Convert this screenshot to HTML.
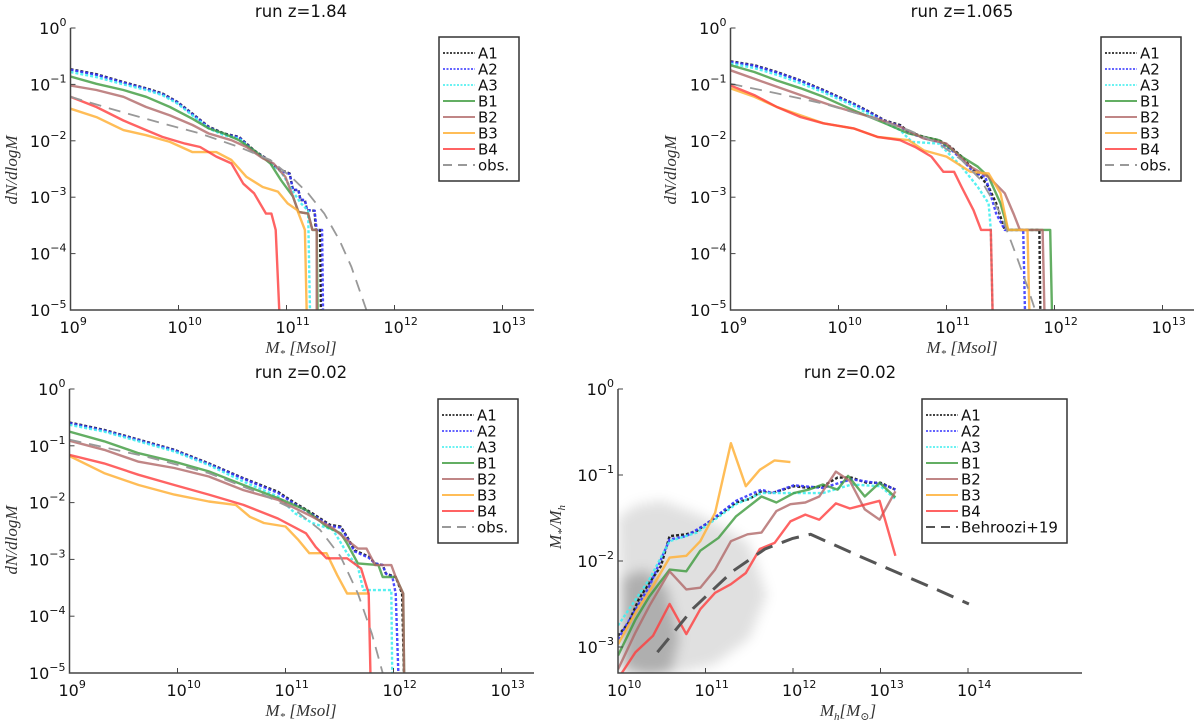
<!DOCTYPE html>
<html><head><meta charset="utf-8">
<style>
html,body{margin:0;padding:0;background:#fff;}
svg{display:block;font-family:"DejaVu Sans","Liberation Sans",sans-serif;}
.tick{font-size:16px;fill:#111;}
.sup{font-size:11px;}
.title{font-size:16.5px;fill:#111;}
.leg{font-size:15px;fill:#111;}
.axlab{font-family:"Liberation Serif","DejaVu Serif",serif;font-style:italic;font-size:17px;fill:#333;}
</style></head>
<body>
<svg id="fig" width="1200" height="722" viewBox="0 0 1200 722" xmlns="http://www.w3.org/2000/svg">
<defs>
<filter id="blur" x="-20%" y="-20%" width="140%" height="140%"><feGaussianBlur stdDeviation="6"/></filter>
</defs>
</svg>
<script>
// ---------- data (log10 values) ----------
// Panel 1: run z=1.84
const z184_A1_logM=[9.00,9.24,9.49,9.70,9.85,9.99,10.13,10.28,10.42,10.56,10.70,10.81,10.88,10.95,11.03,11.06,11.11,11.13,11.17,11.19,11.26,11.27,11.31,11.32];
const z184_A1_logN=[-0.73,-0.82,-0.96,-1.07,-1.16,-1.31,-1.52,-1.75,-1.87,-1.93,-2.17,-2.31,-2.43,-2.52,-2.58,-2.87,-2.87,-3.05,-3.05,-3.23,-3.24,-3.58,-3.58,-5.3];
const z184_A2_logM=[9.00,9.24,9.49,9.70,9.85,9.99,10.13,10.28,10.42,10.56,10.70,10.81,10.88,10.95,11.03,11.06,11.11,11.13,11.17,11.19,11.26,11.28,11.33,11.34];
const z184_A2_logN=[-0.74,-0.83,-0.97,-1.08,-1.17,-1.32,-1.53,-1.76,-1.88,-1.94,-2.18,-2.32,-2.44,-2.53,-2.59,-2.87,-2.87,-3.05,-3.05,-3.23,-3.24,-3.58,-3.58,-5.3];
const z184_A3_logM=[9.00,9.24,9.49,9.70,9.85,9.99,10.13,10.28,10.42,10.56,10.70,10.81,10.95,11.06,11.13,11.20,11.22];
const z184_A3_logN=[-0.78,-0.87,-1.00,-1.10,-1.19,-1.34,-1.55,-1.78,-1.90,-1.96,-2.20,-2.33,-2.55,-2.90,-3.10,-3.24,-5.3];
const z184_B1_logM=[9.00,9.24,9.49,9.70,9.92,10.13,10.28,10.42,10.56,10.70,10.85,10.95,11.06,11.11,11.20,11.24,11.28,11.29];
const z184_B1_logN=[-0.86,-0.99,-1.10,-1.22,-1.40,-1.61,-1.78,-1.87,-1.99,-2.17,-2.40,-2.70,-2.99,-3.26,-3.29,-3.58,-3.58,-5.3];
const z184_B2_logM=[9.00,9.24,9.49,9.70,9.92,10.13,10.28,10.49,10.63,10.78,10.88,10.99,11.06,11.11,11.20,11.24,11.28,11.28];
const z184_B2_logN=[-1.02,-1.10,-1.22,-1.40,-1.55,-1.72,-1.87,-1.99,-2.11,-2.31,-2.40,-2.64,-2.99,-3.26,-3.29,-3.58,-3.58,-5.3];
const z184_B3_logM=[9.00,9.24,9.49,9.70,9.92,10.13,10.35,10.49,10.63,10.78,10.92,11.01,11.10,11.17,11.19];
const z184_B3_logN=[-1.43,-1.58,-1.81,-1.90,-2.02,-2.20,-2.20,-2.34,-2.64,-2.82,-2.90,-3.11,-3.23,-3.58,-5.3];
const z184_B4_logM=[9.00,9.24,9.49,9.70,9.85,10.06,10.20,10.35,10.49,10.60,10.70,10.81,10.86,10.90,10.94];
const z184_B4_logN=[-1.22,-1.40,-1.64,-1.81,-1.93,-2.05,-2.11,-2.28,-2.40,-2.76,-2.93,-3.29,-3.29,-3.58,-5.3];
const z184_obs_logM=[9.00,9.42,9.85,10.20,10.56,10.85,11.06,11.20,11.35,11.49,11.60,11.74];
const z184_obs_logN=[-1.22,-1.46,-1.69,-1.87,-2.11,-2.34,-2.67,-2.93,-3.29,-3.76,-4.23,-5.0];

// Panel 2: run z=1.065
const z1065_A1_logM=[9.00,9.22,9.43,9.65,9.86,10.00,10.14,10.29,10.43,10.57,10.65,10.79,10.93,11.04,11.14,11.25,11.32,11.39,11.46,11.54,11.86,11.87];
const z1065_A1_logN=[-0.59,-0.66,-0.78,-0.93,-1.10,-1.22,-1.34,-1.49,-1.64,-1.72,-1.84,-1.93,-1.99,-2.11,-2.28,-2.52,-2.64,-2.82,-3.11,-3.58,-3.58,-5.3];
const z1065_A2_logM=[9.00,9.22,9.43,9.65,9.86,10.00,10.14,10.29,10.43,10.57,10.65,10.79,10.93,11.04,11.14,11.25,11.36,11.46,11.54,11.71,11.73];
const z1065_A2_logN=[-0.60,-0.67,-0.79,-0.94,-1.11,-1.23,-1.35,-1.50,-1.65,-1.74,-1.86,-1.95,-2.02,-2.15,-2.33,-2.55,-2.64,-3.29,-3.58,-3.58,-5.3];
const z1065_A3_logM=[9.00,9.22,9.43,9.65,9.86,10.14,10.43,10.57,10.68,10.93,11.14,11.29,11.39,11.41,11.43];
const z1065_A3_logN=[-0.63,-0.71,-0.83,-0.98,-1.14,-1.38,-1.68,-1.81,-2.02,-2.05,-2.46,-2.82,-3.11,-3.58,-5.3];
const z1065_B1_logM=[9.00,9.22,9.43,9.65,9.86,10.14,10.43,10.65,10.93,11.14,11.29,11.39,11.50,11.57,11.96,11.98];
const z1065_B1_logN=[-0.66,-0.78,-0.93,-1.07,-1.22,-1.46,-1.69,-1.87,-1.99,-2.28,-2.46,-2.64,-3.11,-3.58,-3.58,-5.3];
const z1065_B2_logM=[9.00,9.22,9.43,9.65,9.93,10.14,10.36,10.57,10.79,11.00,11.22,11.39,11.54,11.62,11.68,11.89,11.91];
const z1065_B2_logN=[-0.75,-0.90,-1.04,-1.19,-1.37,-1.49,-1.61,-1.75,-1.96,-2.05,-2.46,-2.64,-2.93,-3.29,-3.58,-3.58,-5.3];
const z1065_B3_logM=[9.00,9.22,9.43,9.65,9.86,10.14,10.36,10.65,10.79,11.00,11.22,11.39,11.50,11.57,11.75,11.77];
const z1065_B3_logN=[-1.07,-1.22,-1.40,-1.55,-1.69,-1.78,-1.93,-1.99,-2.17,-2.28,-2.55,-2.58,-2.93,-3.58,-3.58,-5.3];
const z1065_B4_logM=[9.00,9.22,9.43,9.65,9.86,10.14,10.36,10.57,10.71,10.86,10.97,11.07,11.14,11.25,11.32,11.41,11.43];
const z1065_B4_logN=[-1.02,-1.19,-1.40,-1.58,-1.69,-1.78,-1.93,-1.99,-2.11,-2.28,-2.55,-2.55,-2.82,-3.23,-3.58,-3.58,-5.3];
const z1065_obs_logM=[9.00,9.43,9.86,10.29,10.65,10.93,11.14,11.32,11.50,11.64,11.75,11.82];
const z1065_obs_logN=[-0.99,-1.16,-1.34,-1.58,-1.81,-2.05,-2.34,-2.70,-3.29,-4.00,-4.59,-5.0];

// Panel 3: run z=0.02 (mass function)
const z002_A1_logM=[9.00,9.32,9.64,9.97,10.29,10.61,10.93,11.09,11.25,11.41,11.51,11.57,11.64,11.77,11.83,11.90,11.93,12.02,12.08,12.10];
const z002_A1_logN=[-0.59,-0.72,-0.89,-1.07,-1.31,-1.57,-1.81,-2.01,-2.19,-2.39,-2.42,-2.60,-2.84,-2.95,-3.07,-3.10,-3.25,-3.31,-3.60,-5.3];
const z002_A2_logM=[9.00,9.32,9.64,9.97,10.29,10.61,10.93,11.09,11.25,11.41,11.51,11.57,11.64,11.77,11.83,11.90,11.93,11.99,12.02,12.05];
const z002_A2_logN=[-0.60,-0.73,-0.90,-1.08,-1.32,-1.58,-1.83,-2.03,-2.21,-2.41,-2.44,-2.62,-2.86,-2.97,-3.07,-3.10,-3.25,-3.31,-3.60,-5.3];
const z002_A3_logM=[9.00,9.32,9.64,9.97,10.29,10.61,10.93,11.09,11.25,11.44,11.57,11.67,11.72,11.98,11.99];
const z002_A3_logN=[-0.63,-0.75,-0.92,-1.10,-1.34,-1.63,-1.89,-2.19,-2.36,-2.48,-2.89,-3.13,-3.54,-3.54,-5.3];
const z002_B1_logM=[9.00,9.32,9.64,9.97,10.29,10.61,10.93,11.19,11.38,11.51,11.57,11.67,11.86,11.90,12.02,12.09,12.10];
const z002_B1_logN=[-0.75,-0.92,-1.13,-1.28,-1.45,-1.69,-1.92,-2.13,-2.42,-2.54,-2.72,-3.07,-3.10,-3.31,-3.31,-3.60,-5.3];
const z002_B2_logM=[9.00,9.32,9.64,9.97,10.29,10.61,10.93,11.25,11.44,11.57,11.67,11.75,11.83,11.98,12.02,12.09,12.10];
const z002_B2_logN=[-0.91,-1.07,-1.28,-1.39,-1.54,-1.78,-1.95,-2.25,-2.45,-2.66,-2.81,-2.81,-3.10,-3.10,-3.31,-3.60,-5.3];
const z002_B3_logM=[9.00,9.32,9.64,9.97,10.29,10.54,10.67,10.80,11.00,11.12,11.22,11.38,11.48,11.57,11.77];
const z002_B3_logN=[-1.18,-1.48,-1.69,-1.86,-1.98,-2.04,-2.25,-2.36,-2.42,-2.66,-2.89,-2.89,-3.28,-3.60,-3.60];
const z002_B4_logM=[9.00,9.32,9.64,9.97,10.29,10.61,10.93,11.19,11.28,11.38,11.57,11.70,11.77,11.79];
const z002_B4_logN=[-1.16,-1.31,-1.51,-1.69,-1.86,-2.04,-2.28,-2.54,-2.78,-2.98,-2.98,-3.16,-3.60,-5.3];
const z002_obs_logM=[9.00,9.71,10.29,10.77,11.09,11.32,11.51,11.67,11.80,11.90];
const z002_obs_logN=[-0.89,-1.19,-1.48,-1.84,-2.13,-2.48,-2.95,-3.60,-4.31,-5.0];

// Panel 4: run z=0.02 (stellar-to-halo mass ratio)
const shm_A1_logMh=[10.00,10.12,10.24,10.36,10.49,10.59,10.78,10.90,11.02,11.19,11.35,11.50,11.64,11.76,12.01,12.18,12.34,12.51,12.67,12.84,13.00,13.17];
const shm_A1_logR=[-2.87,-2.72,-2.44,-2.25,-2.06,-1.71,-1.69,-1.65,-1.56,-1.44,-1.32,-1.28,-1.19,-1.21,-1.13,-1.15,-1.13,-1.03,-1.03,-1.09,-1.09,-1.17];
const shm_A2_logMh=[10.00,10.36,10.59,10.78,11.02,11.35,11.64,11.76,12.01,12.34,12.67,13.00,13.17];
const shm_A2_logR=[-2.91,-2.29,-1.75,-1.71,-1.56,-1.30,-1.17,-1.21,-1.12,-1.15,-1.05,-1.10,-1.17];
const shm_A3_logMh=[10.00,10.36,10.59,10.90,11.35,11.64,12.01,12.34,12.67,13.00,13.17];
const shm_A3_logR=[-2.75,-2.21,-1.77,-1.67,-1.34,-1.21,-1.21,-1.21,-1.11,-1.13,-1.28];
const shm_B1_logMh=[10.00,10.20,10.36,10.59,10.78,10.94,11.15,11.35,11.64,11.81,12.01,12.18,12.34,12.51,12.63,12.82,12.99,13.17];
const shm_B1_logR=[-3.10,-2.68,-2.41,-2.10,-2.12,-1.88,-1.73,-1.48,-1.25,-1.32,-1.21,-1.17,-1.11,-1.17,-1.01,-1.25,-1.09,-1.26];
const shm_B2_logMh=[10.00,10.20,10.36,10.59,10.78,10.94,11.11,11.29,11.48,11.64,11.81,11.97,12.14,12.30,12.49,12.65,12.82,12.99,13.17];
const shm_B2_logR=[-3.26,-2.83,-2.52,-2.12,-2.33,-2.31,-2.10,-1.77,-1.69,-1.67,-1.42,-1.34,-1.32,-1.25,-0.96,-1.07,-1.40,-1.52,-1.19];
const shm_B3_logMh=[10.00,10.20,10.40,10.59,10.78,10.94,11.11,11.29,11.46,11.62,11.79,11.97];
const shm_B3_logR=[-2.97,-2.60,-2.29,-1.96,-1.94,-1.77,-1.44,-0.63,-1.13,-0.94,-0.83,-0.85];
const shm_B4_logMh=[10.00,10.20,10.40,10.59,10.78,10.94,11.11,11.29,11.46,11.62,11.79,11.97,12.14,12.30,12.49,12.65,12.99,13.17];
const shm_B4_logR=[-3.37,-3.06,-2.87,-2.50,-2.85,-2.56,-2.37,-2.27,-2.14,-1.86,-1.79,-1.54,-1.46,-1.52,-1.33,-1.39,-1.30,-1.94];
const shm_Behroozi_logMh=[10.45,10.86,11.31,11.68,11.99,12.20,12.42,12.84,13.25,13.66,14.01];
const shm_Behroozi_logR=[-3.06,-2.55,-2.12,-1.86,-1.74,-1.69,-1.79,-1.98,-2.16,-2.34,-2.50];
// approximate outline of the dense scatter cloud (log Mh, log ratio)
const cloud_logMh=[10.0,10.2,10.5,10.9,11.2,11.5,11.7,11.5,11.1,10.7,10.3,10.05];
const cloud_logR=[-1.5,-1.35,-1.3,-1.45,-1.6,-1.8,-2.4,-2.9,-3.2,-3.3,-3.3,-3.2];
const core_logMh=[10.05,10.3,10.55,10.7,10.6,10.35,10.05];
const core_logR=[-2.2,-2.1,-2.3,-2.9,-3.3,-3.35,-3.3];

const tickLogsMass=[9,10,11,12,13];
const tickLogsN=[0,-1,-2,-3,-4,-5];
const tickLogsMh=[10,11,12,13,14];
const tickLogsR=[0,-1,-2,-3];

// ---------- drawing ----------
const NS='http://www.w3.org/2000/svg';
const svg=document.getElementById('fig');
function mk(tag,attrs,parent){const e=document.createElementNS(NS,tag);for(const k in attrs)e.setAttribute(k,attrs[k]);(parent||svg).appendChild(e);return e;}

const STY={
 A1:{c:'#111',w:2.4,d:'3,2',o:0.9},
 A2:{c:'#3a3aff',w:2.4,d:'3,2',o:0.9},
 A3:{c:'#44f0f0',w:2.4,d:'3,2',o:0.9},
 B1:{c:'#3c9a3c',w:2.4,d:'',o:0.8},
 B2:{c:'#b06868',w:2.4,d:'',o:0.8},
 B3:{c:'#ffb23a',w:2.4,d:'',o:0.85},
 B4:{c:'#ff3c3c',w:2.4,d:'',o:0.8},
 obs:{c:'#999',w:1.8,d:'12,8',o:1},
 Behroozi:{c:'#555',w:3,d:'18,10',o:1}
};

function panel(cfg){
 const g=mk('g',{});
 
 
 const X=v=>cfg.xL+(v-cfg.xmin)*cfg.xpd;
 const Y=v=>cfg.yT-(v-cfg.ymax)*cfg.ypd;
 const cid='clip-'+cfg.name;
 const cp=mk('clipPath',{id:cid},g);
 mk('rect',{x:cfg.xL,y:cfg.yT-2,width:cfg.xR-cfg.xL,height:cfg.yB-cfg.yT+2},cp);
 const plot=mk('g',{'clip-path':'url(#'+cid+')'},g);
 
 
 if(cfg.cloud){
  const sc=mk('g',{filter:'url(#blur)'},plot);
  
  
  mk('polygon',{points:cloud_logMh.map((v,i)=>X(v)+','+Y(cloud_logR[i])).join(' '),fill:'rgba(0,0,0,0.12)'},sc);
  mk('polygon',{points:core_logMh.map((v,i)=>X(v)+','+Y(core_logR[i])).join(' '),fill:'rgba(0,0,0,0.22)'},sc);
 }
 cfg.series.forEach(s=>{
  const st=STY[s.k];
  const p=mk('polyline',{points:s.x.map((v,i)=>X(v).toFixed(1)+','+Y(s.y[i]).toFixed(1)).join(' '),fill:'none',stroke:st.c,'stroke-width':st.w,'stroke-opacity':st.o,'stroke-dasharray':st.d,'stroke-linejoin':'round'},plot);
  
  
 });
 const ax=mk('path',{d:`M${cfg.xL},${cfg.yT} V${cfg.yB} H${cfg.xR}`,fill:'none',stroke:'#444','stroke-width':1.5},g);
 
 
 cfg.xt.forEach(t=>{
  const x=X(t);
  mk('line',{x1:x,x2:x,y1:cfg.yB,y2:cfg.yB-5,stroke:'#444','stroke-width':1},g);
  const tx=mk('text',{x:x-11,y:cfg.yB+23,'text-anchor':'start',class:'tick'},g);
  
  
  tx.textContent='10';
  const sp=mk('tspan',{class:'sup',dy:-8},tx);sp.textContent=String(t);
 });
 cfg.yt.forEach(t=>{
  const y=Y(t);
  mk('line',{x1:cfg.xL,x2:cfg.xL+5,y1:y,y2:y,stroke:'#444','stroke-width':1},g);
  const tx=mk('text',{x:cfg.xL-4,y:y+6,'text-anchor':'end',class:'tick'},g);
  
  
  const a=mk('tspan',{},tx);a.textContent='10';
  const sp=mk('tspan',{class:'sup',dy:-8},tx);sp.textContent=(t<0?'\u2212'+(-t):String(t));
 });
 const ti=mk('text',{x:cfg.tx,y:cfg.yT-11,'text-anchor':'middle',class:'title'},g);
 
 
 ti.textContent=cfg.title;
 const xl=mk('text',{x:cfg.xlx,y:cfg.yB+43,'text-anchor':'middle',class:'axlab'},g);
 
 
 xl.innerHTML=cfg.xlab;
 const yl=mk('text',{x:0,y:0,'text-anchor':'middle',class:'axlab',transform:`translate(${cfg.ylx},${cfg.yly}) rotate(-90)`},g);
 
 
 yl.innerHTML=cfg.ylab;
 const lg=mk('g',{},g);
 
 
 mk('rect',{x:cfg.lx,y:cfg.ly,width:cfg.lw,height:144,fill:'#fff',stroke:'#333','stroke-width':1.5},lg);
 cfg.series.forEach((s,i)=>{
  const st=STY[s.k];const yy=cfg.ly+16+i*16;
  const ln=mk('line',{x1:cfg.lx+4,x2:cfg.lx+36,y1:yy,y2:yy,stroke:st.c,'stroke-width':s.k.startsWith('A')?1.8:2,'stroke-opacity':st.o,'stroke-dasharray':s.k.startsWith('A')?'2,1.5':(st.d?'9,6':'')},lg);
  
  
  const t=mk('text',{x:cfg.lx+39,y:yy+5.5,class:'leg'},lg);
  
  
  t.textContent=s.label;
 });
}
const MS='<tspan>M</tspan><tspan font-size="11" dy="4">*</tspan><tspan dy="-4"> [Msol]</tspan>';
const DN='dN/dlogM';
const KEYS=['A1','A2','A3','B1','B2','B3','B4','obs'];
const P={
 z184:{A1:[z184_A1_logM,z184_A1_logN],A2:[z184_A2_logM,z184_A2_logN],A3:[z184_A3_logM,z184_A3_logN],B1:[z184_B1_logM,z184_B1_logN],B2:[z184_B2_logM,z184_B2_logN],B3:[z184_B3_logM,z184_B3_logN],B4:[z184_B4_logM,z184_B4_logN],obs:[z184_obs_logM,z184_obs_logN]},
 z1065:{A1:[z1065_A1_logM,z1065_A1_logN],A2:[z1065_A2_logM,z1065_A2_logN],A3:[z1065_A3_logM,z1065_A3_logN],B1:[z1065_B1_logM,z1065_B1_logN],B2:[z1065_B2_logM,z1065_B2_logN],B3:[z1065_B3_logM,z1065_B3_logN],B4:[z1065_B4_logM,z1065_B4_logN],obs:[z1065_obs_logM,z1065_obs_logN]},
 z002:{A1:[z002_A1_logM,z002_A1_logN],A2:[z002_A2_logM,z002_A2_logN],A3:[z002_A3_logM,z002_A3_logN],B1:[z002_B1_logM,z002_B1_logN],B2:[z002_B2_logM,z002_B2_logN],B3:[z002_B3_logM,z002_B3_logN],B4:[z002_B4_logM,z002_B4_logN],obs:[z002_obs_logM,z002_obs_logN]},
 shm:{A1:[shm_A1_logMh,shm_A1_logR],A2:[shm_A2_logMh,shm_A2_logR],A3:[shm_A3_logMh,shm_A3_logR],B1:[shm_B1_logMh,shm_B1_logR],B2:[shm_B2_logMh,shm_B2_logR],B3:[shm_B3_logMh,shm_B3_logR],B4:[shm_B4_logMh,shm_B4_logR],Behroozi:[shm_Behroozi_logMh,shm_Behroozi_logR]}
};
function ser(p,keys){return keys.map(k=>({k,label:k==='obs'?'obs.':(k==='Behroozi'?'Behroozi+19':k),x:P[p][k][0],y:P[p][k][1]}));}

panel({name:'panel-z1-84',title:'run z=1.84',xL:70.5,xR:534,xmin:9,xpd:108,yT:28,yB:310,ymax:0,ypd:56.4,xt:tickLogsMass,yt:tickLogsN,
 tx:301,xlx:301,ylx:17,yly:170,xlab:MS,ylab:DN,lx:439,ly:37,lw:80,series:ser('z184',KEYS)});
panel({name:'panel-z1-065',title:'run z=1.065',xL:730.5,xR:1194,xmin:9,xpd:108,yT:28,yB:310,ymax:0,ypd:56.4,xt:tickLogsMass,yt:tickLogsN,
 tx:962,xlx:962,ylx:676,yly:170,xlab:MS,ylab:DN,lx:1101,ly:37,lw:80,series:ser('z1065',KEYS)});
panel({name:'panel-z0-02-smf',title:'run z=0.02',xL:69.5,xR:534,xmin:9,xpd:108,yT:389,yB:673,ymax:0,ypd:56.8,xt:tickLogsMass,yt:tickLogsN,
 tx:301,xlx:301,ylx:17,yly:540,xlab:MS,ylab:DN,lx:438,ly:399,lw:80,series:ser('z002',KEYS)});
panel({name:'panel-z0-02-shm',title:'run z=0.02',xL:618,xR:1082,xmin:10,xpd:87.5,yT:389,yB:673,ymax:0,ypd:86,xt:tickLogsMh,yt:tickLogsR,cloud:true,
 tx:850,xlx:848,ylx:561,yly:527,
 xlab:'<tspan>M</tspan><tspan font-size="11" dy="4">h</tspan><tspan dy="-4">[M</tspan><tspan font-size="11" dy="4">\u2299</tspan><tspan dy="-4">]</tspan>',
 ylab:'<tspan>M</tspan><tspan font-size="11" dy="4">*</tspan><tspan dy="-4">/M</tspan><tspan font-size="11" dy="4">h</tspan>',
 lx:922,ly:399,lw:145,series:ser('shm',['A1','A2','A3','B1','B2','B3','B4','Behroozi'])});
</script>
</body></html>
